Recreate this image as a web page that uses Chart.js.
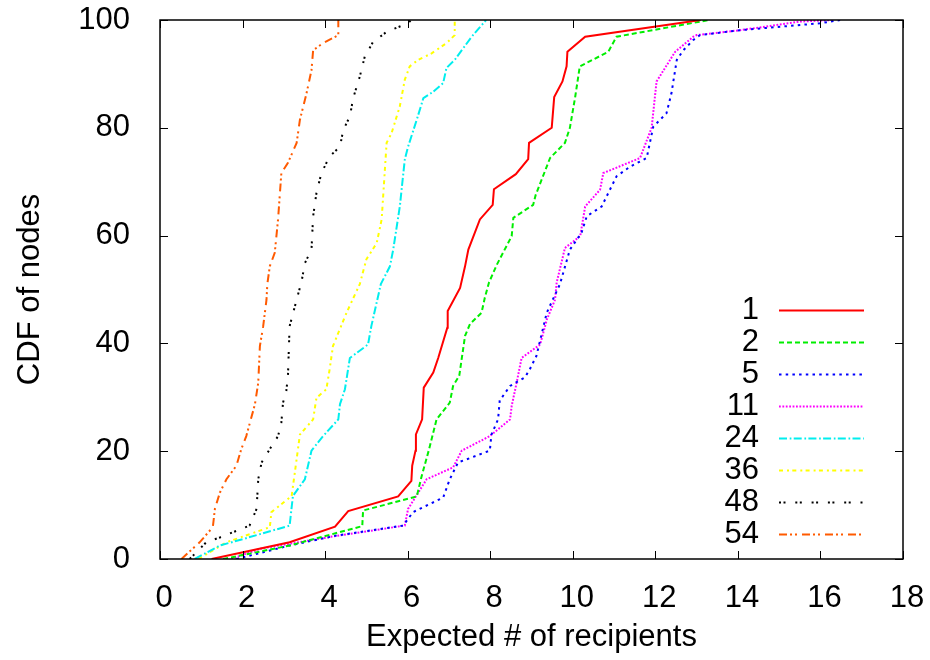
<!DOCTYPE html>
<html>
<head>
<meta charset="utf-8">
<title>CDF of nodes</title>
<script src="https://cdn.jsdelivr.net/npm/chart.js@4.4.1/dist/chart.umd.min.js"></script>
<style>
  html, body { margin: 0; padding: 0; background: #fff; }
  #cdfChart { display: block; }
</style>
</head>
<body>
<canvas id="cdfChart" width="930" height="660"></canvas>
<script>
// [expected recipients, CDF %] for each group size
const s1 = [[1.25,0],[3.14,3.1],[4.24,6.0],[4.56,8.9],[5.77,11.6],[6.09,14.5],[6.11,17.3],[6.19,20.1],[6.2,23.1],[6.35,25.9],[6.39,31.8],[6.62,34.6],[6.74,37.3],[6.96,42.9],[6.97,46.0],[7.27,50.3],[7.39,54.3],[7.47,57.4],[7.75,63.0],[8.06,65.7],[8.09,68.6],[8.62,71.4],[8.92,74.2],[8.94,77.2],[9.49,80.0],[9.55,85.7],[9.75,88.6],[9.85,91.4],[9.87,94.1],[10.3,96.9],[13.1,100]];
const s2 = [[1.53,0],[3.14,2.5],[4.9,6.1],[4.92,9.0],[6.22,11.6],[6.34,15.4],[6.52,20.4],[6.7,25.9],[7.02,29.0],[7.1,32.1],[7.25,34.0],[7.39,41.4],[7.51,43.6],[7.79,45.7],[7.87,48.5],[7.97,51.3],[8.16,54.6],[8.52,59.9],[8.56,63.3],[9.04,65.7],[9.1,67.5],[9.45,74.4],[9.81,77.2],[9.93,80.0],[10.06,85.8],[10.17,91.4],[10.86,94.1],[11.06,96.9],[13.3,100]];
const s5 = [[1.85,0],[3.14,2.5],[4.24,4.3],[5.89,6.2],[6.13,8.7],[6.86,11.4],[7.02,14.8],[7.22,17.9],[7.99,20.1],[8.03,23.1],[8.19,25.9],[8.23,29.4],[8.48,32.1],[8.84,33.7],[8.96,35.2],[9.12,37.7],[9.37,45.7],[9.69,51.0],[9.93,57.4],[10.21,60.5],[10.34,63.6],[10.7,65.4],[11.06,71.0],[11.39,72.8],[11.79,74.4],[11.95,80.2],[12.27,82.7],[12.39,86.4],[12.52,92.6],[12.68,94.4],[12.92,96.3],[13.08,97.2],[14.05,98.1],[15.99,99.4],[16.48,100]];
const s11 = [[1.73,0],[2.42,1.9],[4.28,4.3],[5.93,6.2],[6.01,9.3],[6.46,14.8],[7.1,17.0],[7.31,20.1],[7.99,22.8],[8.48,25.9],[8.52,28.4],[8.64,32.7],[8.76,37.3],[9.21,39.8],[9.37,44.4],[9.57,48.1],[9.61,51.3],[9.81,57.7],[10.18,59.9],[10.3,65.4],[10.66,68.5],[10.74,71.6],[11.63,74.4],[11.91,80.0],[12.03,88.6],[12.48,94.1],[12.92,96.9],[13.0,97.2],[14.05,98.1],[15.5,99.7],[16.3,100]];
const s24 = [[0.84,0],[1.45,2.5],[2.01,3.7],[3.14,6.2],[3.22,11.7],[3.51,14.8],[3.67,20.1],[3.95,22.8],[4.32,25.9],[4.36,28.7],[4.48,31.5],[4.6,37.3],[5.04,39.8],[5.12,43.2],[5.35,51.0],[5.57,54.3],[5.65,57.4],[5.81,65.4],[5.93,74.1],[6.01,76.5],[6.22,81.5],[6.38,85.5],[6.62,86.7],[6.86,88.3],[6.94,91.1],[7.14,92.6],[7.55,96.9],[7.9,100]];
const s36 = [[0.93,0],[1.61,3.1],[2.66,5.9],[2.7,8.7],[3.19,11.7],[3.39,23.1],[3.71,25.9],[3.79,29.9],[4.03,31.5],[4.11,35.2],[4.19,39.5],[4.52,45.7],[4.84,51.0],[5.0,55.6],[5.25,58.6],[5.37,63.0],[5.49,77.2],[5.61,79.0],[5.81,84.0],[5.93,88.9],[6.05,91.4],[6.25,92.6],[6.58,93.8],[6.94,95.7],[7.14,97.2],[7.14,100]];
const s48 = [[0.72,0],[1.12,3.1],[1.45,4.0],[2.17,6.2],[2.34,9.3],[2.38,14.8],[2.46,17.9],[2.66,20.4],[2.86,22.8],[2.94,25.3],[2.98,29.0],[3.06,31.2],[3.1,34.0],[3.14,43.2],[3.31,48.1],[3.43,51.5],[3.51,54.9],[3.67,57.4],[3.71,63.6],[3.79,67.9],[3.91,71.6],[4.11,74.7],[4.36,76.5],[4.44,79.6],[4.6,82.1],[4.68,85.5],[4.84,89.5],[4.96,93.2],[5.16,95.9],[5.49,97.8],[5.81,98.8],[6.01,99.4],[6.08,100]];
const s54 = [[0.52,0],[0.96,3.1],[1.28,5.9],[1.33,9.3],[1.45,12.3],[1.61,14.8],[1.85,17.3],[1.97,20.4],[2.09,22.8],[2.3,28.7],[2.38,32.7],[2.42,39.5],[2.5,43.2],[2.58,48.1],[2.6,51.0],[2.66,54.3],[2.78,56.8],[2.86,63.0],[2.94,71.6],[3.1,73.5],[3.31,77.2],[3.39,81.5],[3.55,86.4],[3.67,90.7],[3.71,94.4],[3.95,95.7],[4.32,97.2],[4.32,100]];

const seriesLabels = ['1', '2', '5', '11', '24', '36', '48', '54'];
const seriesData = [s1, s2, s5, s11, s24, s36, s48, s54];
const xTicks = [0, 2, 4, 6, 8, 10, 12, 14, 16, 18];
const yTicks = [0, 20, 40, 60, 80, 100];

// gnuplot-like line styles
const lineStyles = [
  { color: '#ff0000', dash: [] },
  { color: '#00ee00', dash: [5, 3] },
  { color: '#0000ff', dash: [2.5, 4.2] },
  { color: '#ff00ff', dash: [1.8, 1.6] },
  { color: '#00eeee', dash: [8, 2.7, 1.7, 2.3] },
  { color: '#ffff00', dash: [4, 4, 2, 3.3] },
  { color: '#000000', dash: [2, 2.5, 2, 9.8] },
  { color: '#ff5a00', dash: [8, 3, 2, 3, 2, 5] },
];

const FONT = "'Liberation Sans', Arial, Helvetica, sans-serif";
const FONT_SIZE = 31;
Chart.defaults.font.family = FONT;
Chart.defaults.color = '#000';

const datasets = seriesData.map((pts, i) => ({
  label: seriesLabels[i],
  data: pts.map(p => ({ x: p[0], y: p[1] })),
  borderColor: lineStyles[i].color,
  borderDash: lineStyles[i].dash,
  borderWidth: 2,
  pointRadius: 0,
  tension: 0,
  fill: false,
}));

// Box around the plot with tick marks pointing inward on all four sides
const frameTicks = {
  id: 'frameTicks',
  afterDraw(chart) {
    const { ctx, chartArea: a, scales: { x, y } } = chart;
    const len = 8;
    ctx.save();
    ctx.strokeStyle = '#000';
    ctx.lineWidth = 1;
    ctx.beginPath();
    xTicks.forEach(v => {
      const px = Math.round(x.getPixelForValue(v)) + 0.5;
      ctx.moveTo(px, a.bottom); ctx.lineTo(px, a.bottom - len);
      ctx.moveTo(px, a.top); ctx.lineTo(px, a.top + len);
    });
    yTicks.forEach(v => {
      const py = Math.round(y.getPixelForValue(v)) + 0.5;
      ctx.moveTo(a.left, py); ctx.lineTo(a.left + len, py);
      ctx.moveTo(a.right, py); ctx.lineTo(a.right - len, py);
    });
    ctx.stroke();
    ctx.lineWidth = 1.5;
    ctx.strokeRect(a.left, a.top, a.right - a.left, a.bottom - a.top);
    ctx.restore();
  }
};

// Key in the lower right: label text then a line sample
const keyBox = {
  id: 'keyBox',
  afterDatasetsDraw(chart) {
    const { ctx } = chart;
    const textRight = 759, lineStart = 779, lineEnd = 864, firstRow = 310.5, rowStep = 32;
    ctx.save();
    ctx.font = `${FONT_SIZE}px ${FONT}`;
    ctx.textAlign = 'right';
    ctx.textBaseline = 'middle';
    chart.data.datasets.forEach((ds, i) => {
      const yRow = firstRow + i * rowStep;
      ctx.fillStyle = '#000';
      ctx.fillText(ds.label, textRight, yRow);
      ctx.strokeStyle = ds.borderColor;
      ctx.lineWidth = ds.borderWidth;
      ctx.setLineDash(ds.borderDash);
      ctx.beginPath();
      ctx.moveTo(lineStart, yRow);
      ctx.lineTo(lineEnd, yRow);
      ctx.stroke();
    });
    ctx.restore();
  }
};

// fixed scale sizes so the plot box lands at 160..903 x 20..559
const fixX = scale => {
  scale.height = 101;
  scale.paddingLeft = 0;
  scale.paddingRight = 0;
};
const fixY = scale => {
  scale.width = 160;
  scale.paddingTop = 0;
  scale.paddingBottom = 0;
};

const ctx = document.getElementById('cdfChart').getContext('2d');
const chart = new Chart(ctx, {
  type: 'line',
  data: { datasets },
  options: {
    responsive: false,
    animation: false,
    layout: { padding: { left: 0, top: 20, right: 27, bottom: 0 } },
    scales: {
      x: {
        type: 'linear',
        min: 0,
        max: 18,
        afterFit: fixX,
        afterBuildTicks: scale => { scale.ticks = xTicks.map(v => ({ value: v })); },
        grid: { display: false },
        border: { display: false },
        ticks: { font: { size: FONT_SIZE }, padding: 13, labelOffset: 4, maxRotation: 0 },
        title: { display: true, text: 'Expected # of recipients', font: { size: FONT_SIZE }, padding: { top: 0, bottom: 4 } },
      },
      y: {
        type: 'linear',
        min: 0,
        max: 100,
        afterFit: fixY,
        afterBuildTicks: scale => { scale.ticks = yTicks.map(v => ({ value: v })); },
        grid: { display: false },
        border: { display: false },
        ticks: { font: { size: FONT_SIZE }, padding: 22 },
        title: { display: true, text: 'CDF of nodes', font: { size: FONT_SIZE }, padding: { top: 12, bottom: 0 } },
      },
    },
    plugins: {
      legend: { display: false },
      tooltip: { enabled: false },
    },
  },
  plugins: [frameTicks, keyBox],
});
</script>
</body>
</html>
